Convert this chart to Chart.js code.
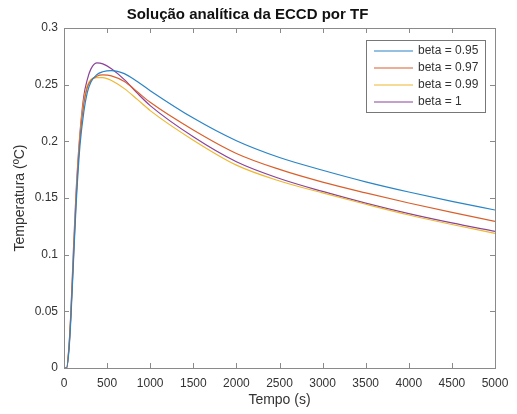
<!DOCTYPE html>
<html>
<head>
<meta charset="utf-8">
<script src="https://cdn.jsdelivr.net/npm/chart.js@4.4.0/dist/chart.umd.min.js"></script>
<style>
  html, body { margin: 0; padding: 0; background: #fff; }
  #wrap { width: 517px; height: 414px; }
</style>
</head>
<body>
<div id="wrap"><canvas id="tempChart" width="517" height="414"></canvas></div>
<script>
// tempo (s) e temperatura (ºC)
const tempo = [0, 30, 60, 80, 110, 140, 185, 230, 270, 310, 380, 450, 550, 700, 850, 1000, 1500, 2000, 2500, 3000, 3500, 4000, 4500, 5000];
const beta095 = [0, 0, 0.018, 0.044, 0.094, 0.143, 0.196, 0.226, 0.243, 0.252, 0.2588, 0.2614, 0.2624, 0.2597, 0.2527, 0.2447, 0.2205, 0.2005, 0.1857, 0.1745, 0.1643, 0.1553, 0.147, 0.1394];
const beta097 = [0, 0, 0.02, 0.047, 0.098, 0.148, 0.203, 0.233, 0.2475, 0.2535, 0.2575, 0.2586, 0.2578, 0.2527, 0.2437, 0.2344, 0.21, 0.1893, 0.1752, 0.164, 0.1545, 0.1456, 0.1373, 0.1294];
const beta099 = [0, 0, 0.021, 0.048, 0.1, 0.15, 0.205, 0.236, 0.249, 0.2545, 0.2562, 0.2562, 0.2537, 0.2465, 0.237, 0.2271, 0.201, 0.179, 0.165, 0.1545, 0.1445, 0.135, 0.1266, 0.1188];
const beta1 = [0, 0, 0.022, 0.05, 0.105, 0.155, 0.207, 0.24, 0.2545, 0.2635, 0.2692, 0.2684, 0.264, 0.2545, 0.2425, 0.2315, 0.204, 0.182, 0.1672, 0.1558, 0.1455, 0.1362, 0.128, 0.1206];
const xTicks = [0, 500, 1000, 1500, 2000, 2500, 3000, 3500, 4000, 4500, 5000];
const yTicks = [0, 0.05, 0.1, 0.15, 0.2, 0.25, 0.3];

const FONT = '"Liberation Sans", Arial, Helvetica, sans-serif';
const AXIS = '#8a8a8a';
const TEXT = '#333333';

function serie(label, valores, cor) {
    return {
        label: label,
        data: tempo.map((t, i) => ({ x: t, y: valores[i] })),
        borderColor: cor,
        borderWidth: 1.2,
        pointRadius: 0,
        fill: false,
        cubicInterpolationMode: 'monotone'
    };
}

// caixa dos eixos com marcas para dentro (estilo MATLAB)
const caixaPlugin = {
    id: 'caixa',
    afterDatasetsDraw(chart) {
        const { ctx, chartArea: a, scales } = chart;
        ctx.save();
        ctx.strokeStyle = AXIS;
        ctx.lineWidth = 1;
        ctx.strokeRect(Math.round(a.left) + 0.5, Math.round(a.top) + 0.5,
            Math.round(a.right - a.left), Math.round(a.bottom - a.top));
        ctx.beginPath();
        scales.x.ticks.forEach(t => {
            const px = Math.round(scales.x.getPixelForValue(t.value)) + 0.5;
            ctx.moveTo(px, a.bottom); ctx.lineTo(px, a.bottom - 5);
            ctx.moveTo(px, a.top); ctx.lineTo(px, a.top + 5);
        });
        scales.y.ticks.forEach(t => {
            const py = Math.round(scales.y.getPixelForValue(t.value)) + 0.5;
            ctx.moveTo(a.left, py); ctx.lineTo(a.left + 5, py);
            ctx.moveTo(a.right, py); ctx.lineTo(a.right - 5, py);
        });
        ctx.stroke();

        // legenda dentro da área do gráfico
        const x0 = a.right - 129, y0 = a.top + 12, w = 119, rowH = 17;
        const h = chart.data.datasets.length * rowH + 4;
        ctx.fillStyle = '#fff';
        ctx.fillRect(x0, y0, w, h);
        ctx.strokeStyle = '#777';
        ctx.strokeRect(x0 + 0.5, y0 + 0.5, w, h);
        ctx.font = '12px ' + FONT;
        ctx.textBaseline = 'middle';
        chart.data.datasets.forEach((ds, i) => {
            const yy = y0 + 11 + i * rowH;
            ctx.strokeStyle = ds.borderColor;
            ctx.lineWidth = 1.2;
            ctx.beginPath();
            ctx.moveTo(x0 + 8, yy); ctx.lineTo(x0 + 47, yy);
            ctx.stroke();
            ctx.fillStyle = TEXT;
            ctx.fillText(ds.label, x0 + 52, yy);
        });
        ctx.restore();
    }
};

const ctx = document.getElementById('tempChart').getContext('2d');
new Chart(ctx, {
    type: 'line',
    data: {
        datasets: [
            serie('beta = 0.95', beta095, '#2a84c6'),
            serie('beta = 0.97', beta097, '#d9602d'),
            serie('beta = 0.99', beta099, '#eeb830'),
            serie('beta = 1', beta1, '#8b4399')
        ]
    },
    options: {
        responsive: false,
        animation: false,
        layout: { padding: { left: 0, right: 22, top: 0, bottom: 0 } },
        plugins: {
            legend: { display: false },
            tooltip: { enabled: false },
            title: {
                display: true,
                text: 'Solução analítica da ECCD por TF',
                color: '#111',
                font: { family: FONT, size: 15, weight: 'bold', lineHeight: 1.2 },
                padding: { top: 6, bottom: 4 }
            }
        },
        scales: {
            x: {
                type: 'linear',
                min: 0,
                max: 5000,
                afterBuildTicks: s => { s.ticks = xTicks.map(v => ({ value: v })); },
                afterFit: s => { s.height = 46; },
                grid: { display: false, drawTicks: false },
                border: { display: false },
                ticks: {
                    color: TEXT,
                    padding: 8,
                    maxRotation: 0,
                    font: { family: FONT, size: 12 },
                    callback: v => String(v)
                },
                title: {
                    display: true,
                    text: 'Tempo (s)',
                    color: TEXT,
                    font: { family: FONT, size: 14, lineHeight: 1.2 },
                    padding: { top: 0, bottom: 5 }
                }
            },
            y: {
                min: 0,
                max: 0.3,
                afterBuildTicks: s => { s.ticks = yTicks.map(v => ({ value: v })); },
                afterFit: s => { s.width = 64; },
                grid: { display: false, drawTicks: false },
                border: { display: false },
                ticks: {
                    color: TEXT,
                    padding: 6,
                    font: { family: FONT, size: 12 },
                    callback: v => String(Math.round(v * 100) / 100)
                },
                title: {
                    display: true,
                    text: 'Temperatura (ºC)',
                    color: TEXT,
                    font: { family: FONT, size: 14, lineHeight: 1.2 },
                    padding: { top: 12, bottom: 0 }
                }
            }
        }
    },
    plugins: [caixaPlugin]
});
</script>
</body>
</html>
